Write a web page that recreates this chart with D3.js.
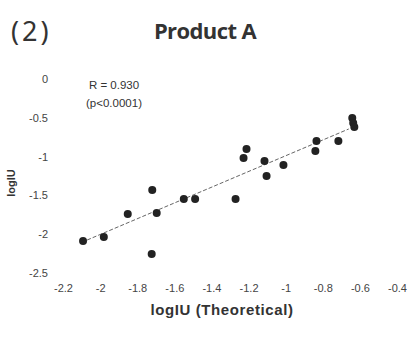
<!DOCTYPE html>
<html>
<head>
<meta charset="utf-8">
<script src="https://cdn.jsdelivr.net/npm/d3@7"></script>
<style>
  body { margin: 0; background: #fff; }
  svg { display: block; }
</style>
</head>
<body>
<div id="chart"></div>
<script>
// values
var theoretical = [-0.641, -0.636, -0.630, -0.834, -0.716, -0.840, -1.211, -1.227, -1.114, -1.103,
                   -1.012, -1.549, -1.488, -1.270, -2.092, -1.980, -1.851, -1.695, -1.722, -1.719];
var measured    = [-0.503, -0.567, -0.619, -0.799, -0.799, -0.928, -0.902, -1.018, -1.057, -1.250,
                   -1.108, -1.546, -1.546, -1.546, -2.088, -2.036, -1.740, -1.727, -2.255, -1.430];
var fitX = [-2.07, -0.66];
var fitY = [-2.075, -0.644];
var xTicks = [-2.2, -2, -1.8, -1.6, -1.4, -1.2, -1, -0.8, -0.6, -0.4];
var yTicks = [0, -0.5, -1, -1.5, -2, -2.5];

var width = 408, height = 338;

var svg = d3.select('#chart').append('svg')
    .attr('width', width)
    .attr('height', height);

var x = d3.scaleLinear().domain([-2.2, -0.4]).range([63, 397]);
var y = d3.scaleLinear().domain([0, -2.5]).range([79, 273]);

// titles
svg.append('text')
    .attr('x', 11).attr('y', 41)
    .style('font-family', 'Noto Sans, sans-serif')
    .style('font-size', '27px')
    .style('letter-spacing', '3px')
    .style('fill', '#333')
    .text('(2)');

svg.append('text')
    .attr('x', 205).attr('y', 39)
    .attr('text-anchor', 'middle')
    .style('font-family', 'Open Sans, sans-serif')
    .style('font-weight', 'bold')
    .style('font-size', '22px')
    .style('letter-spacing', '-0.6px')
    .style('fill', '#333')
    .text('Product A');

// axes, tick labels only
var fmt = function(d) { return d3.format('')(d).replace('−', '-'); };
svg.append('g')
    .attr('transform', 'translate(0,' + 273 + ')')
    .call(d3.axisBottom(x).tickValues(xTicks).tickSize(0).tickPadding(11).tickFormat(fmt));
svg.append('g')
    .attr('transform', 'translate(50,0)')
    .call(d3.axisLeft(y).tickValues(yTicks).tickSize(0).tickPadding(2).tickFormat(fmt));

svg.selectAll('.domain').remove();
svg.selectAll('.tick text')
    .style('font-family', 'Liberation Sans, Arial, sans-serif')
    .style('font-size', '11px')
    .style('fill', '#444');

// axis titles
svg.append('text')
    .attr('x', 222).attr('y', 315)
    .attr('text-anchor', 'middle')
    .style('font-family', 'Liberation Sans, Arial, sans-serif')
    .style('font-weight', 'bold')
    .style('font-size', '15px')
    .style('letter-spacing', '0.6px')
    .style('fill', '#333')
    .text('logIU (Theoretical)');

svg.append('text')
    .attr('transform', 'translate(15,183) rotate(-90)')
    .attr('text-anchor', 'middle')
    .style('font-family', 'Liberation Sans, Arial, sans-serif')
    .style('font-weight', 'bold')
    .style('font-size', '11px')
    .style('fill', '#333')
    .text('logIU');

// stats annotation
svg.append('text')
    .attr('x', 114).attr('y', 89)
    .attr('text-anchor', 'middle')
    .style('font-family', 'Liberation Sans, Arial, sans-serif')
    .style('font-size', '11.5px')
    .style('fill', '#333')
    .text('R = 0.930');
svg.append('text')
    .attr('x', 114).attr('y', 107)
    .attr('text-anchor', 'middle')
    .style('font-family', 'Liberation Sans, Arial, sans-serif')
    .style('font-size', '11.5px')
    .style('fill', '#333')
    .text('(p<0.0001)');

// fit line
svg.append('line')
    .attr('x1', x(fitX[0])).attr('y1', y(fitY[0]))
    .attr('x2', x(fitX[1])).attr('y2', y(fitY[1]))
    .style('stroke', '#666')
    .style('stroke-width', 1)
    .style('stroke-dasharray', '4,2');

// points
var pts = theoretical.map(function(d, i) { return { x: d, y: measured[i] }; });
svg.selectAll('.dot').data(pts).enter().append('circle')
    .attr('class', 'dot')
    .attr('cx', function(d) { return x(d.x); })
    .attr('cy', function(d) { return y(d.y); })
    .attr('r', 4)
    .style('fill', '#222');
</script>
</body>
</html>
